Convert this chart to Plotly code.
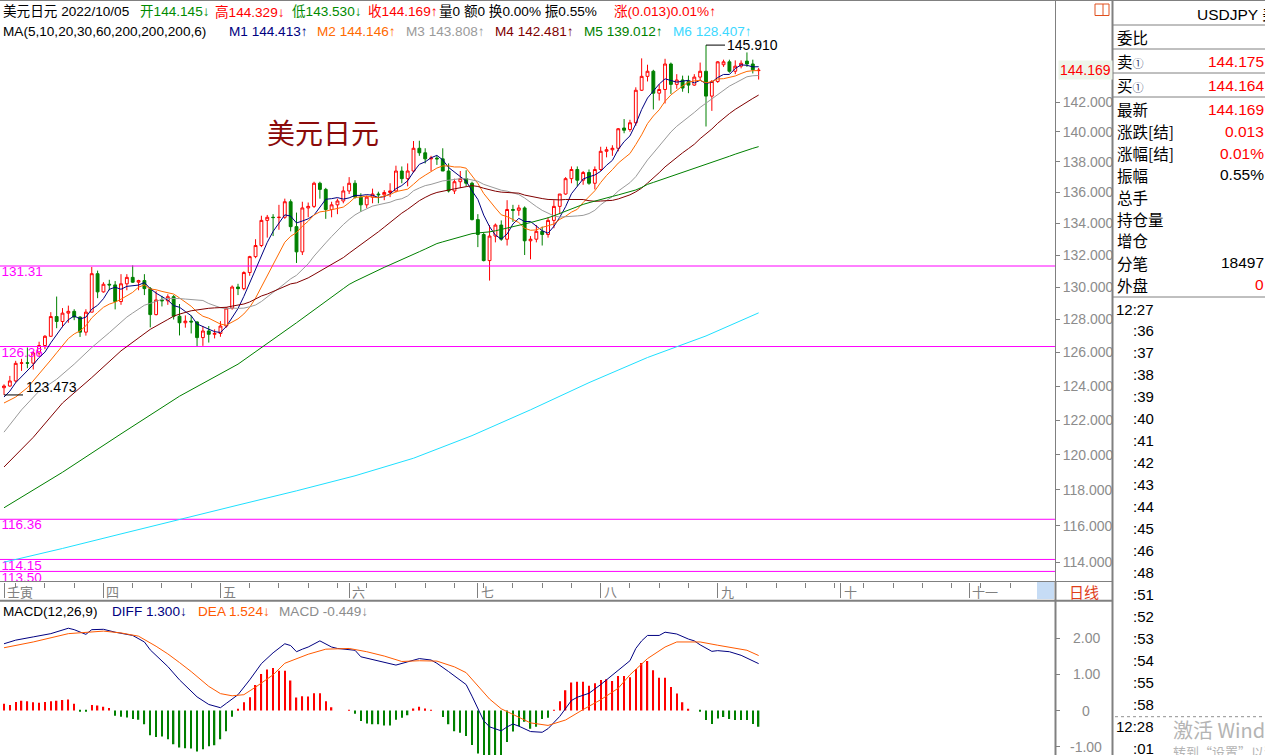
import math
import pandas as pd
import plotly.graph_objects as go

W, H = 1265, 755
FONT = "Liberation Sans, Arial, Noto Sans CJK SC, sans-serif"
CJK = "Noto Sans CJK SC, Liberation Sans, sans-serif"

# daily bars 2022-04-07 .. 2022-10-05 (130 sessions)
OPEN = [123.90, 124.00, 124.30, 125.35, 125.38, 125.36, 125.97, 126.42, 126.98, 128.18,
        127.88, 128.39, 128.50, 128.15, 127.23, 128.45, 130.83, 129.70, 130.17, 130.13,
        129.10, 130.20, 130.60, 130.30, 130.40, 129.90, 128.30, 129.20, 129.15, 129.40,
        128.20, 127.80, 127.90, 127.85, 126.90, 127.30, 127.10, 127.15, 127.60, 128.70,
        130.00, 129.90, 130.90, 131.90, 132.60, 134.20, 134.40, 134.38, 134.40, 135.40,
        133.80, 132.20, 135.00, 135.10, 136.60, 136.20, 134.90, 135.20, 135.45, 136.10,
        136.60, 135.70, 135.20, 135.70, 135.90, 135.85, 136.00, 136.10, 137.40, 136.90,
        137.40, 138.90, 138.60, 138.20, 138.25, 138.20, 137.40, 136.10, 136.70, 136.90,
        136.60, 134.25, 133.30, 131.65, 133.20, 133.90, 133.00, 134.90, 134.85, 135.00,
        132.90, 133.00, 133.50, 133.30, 134.20, 135.10, 135.90, 136.90, 137.50, 136.80,
        137.30, 136.60, 137.50, 138.70, 138.80, 138.90, 140.25, 140.15, 140.60, 142.80,
        143.75, 144.10, 142.60, 142.85, 144.60, 143.20, 143.50, 143.40, 143.15, 143.70,
        144.10, 142.40, 143.40, 144.55, 144.75, 144.10, 144.45, 144.80, 144.60, 144.145]
HIGH = [124.10, 124.60, 125.50, 125.62, 126.30, 126.05, 126.65, 127.05, 128.45, 129.41,
        128.70, 128.85, 128.63, 128.20, 128.63, 131.25, 131.02, 130.30, 130.45, 130.37,
        130.80, 130.80, 131.35, 130.45, 130.80, 130.00, 129.75, 129.45, 129.55, 129.50,
        128.95, 128.25, 128.25, 127.90, 127.60, 127.60, 127.40, 127.90, 128.75, 130.10,
        130.20, 130.98, 131.95, 133.00, 134.50, 134.55, 134.60, 135.20, 135.60, 135.55,
        134.70, 135.40, 135.35, 136.70, 136.70, 136.30, 135.40, 135.60, 136.40, 137.00,
        136.80, 135.95, 135.80, 136.25, 136.05, 136.15, 136.60, 137.75, 137.70, 137.90,
        139.38, 139.40, 138.90, 138.40, 138.40, 138.90, 137.90, 136.90, 137.40, 137.45,
        136.70, 134.60, 133.40, 133.90, 134.00, 134.20, 135.50, 135.20, 135.20, 135.10,
        133.20, 133.90, 133.80, 134.40, 135.50, 135.90, 137.00, 137.70, 137.70, 137.40,
        137.50, 137.70, 139.00, 139.00, 139.10, 140.25, 140.85, 140.80, 143.00, 144.99,
        144.55, 144.20, 143.20, 144.96, 144.70, 143.90, 143.80, 143.80, 143.90, 144.70,
        145.91, 143.50, 144.80, 144.90, 144.90, 144.85, 144.85, 145.40, 144.90, 144.329]
LOW = [123.473, 123.95, 124.20, 124.90, 125.06, 124.98, 125.80, 126.20, 126.95, 127.47,
       127.53, 127.80, 127.96, 126.94, 127.02, 128.44, 129.31, 129.65, 129.80, 128.62,
       128.90, 129.80, 130.25, 129.80, 129.50, 127.52, 128.25, 128.80, 128.90, 128.00,
       127.03, 127.50, 127.15, 126.36, 126.40, 126.60, 126.85, 126.95, 127.50, 128.60,
       129.50, 129.80, 130.70, 131.80, 132.50, 133.10, 133.20, 133.60, 134.30, 133.50,
       131.50, 132.00, 134.40, 135.00, 135.60, 134.30, 134.40, 134.60, 135.30, 135.90,
       135.60, 134.75, 135.00, 135.30, 135.30, 135.50, 135.70, 136.00, 136.60, 136.40,
       137.30, 138.40, 137.90, 137.40, 137.80, 137.40, 136.00, 135.90, 136.30, 136.40,
       134.20, 132.50, 131.60, 130.40, 132.80, 132.90, 132.60, 134.10, 134.50, 132.00,
       131.73, 132.80, 132.60, 133.10, 133.70, 134.60, 135.85, 136.60, 136.40, 136.50,
       136.50, 136.20, 137.40, 138.30, 138.40, 138.70, 139.90, 140.00, 140.40, 142.75,
       143.40, 141.50, 142.10, 141.90, 142.55, 142.90, 142.70, 142.60, 143.10, 143.50,
       140.35, 141.40, 143.30, 144.40, 144.00, 143.90, 144.30, 144.40, 143.95, 143.530]
CLOSE = [124.00, 124.30, 125.35, 125.38, 125.36, 125.97, 126.42, 126.98, 128.18, 127.88,
         128.39, 128.50, 128.15, 127.23, 128.45, 130.83, 129.70, 130.17, 130.13, 129.10,
         130.20, 130.60, 130.30, 130.40, 129.90, 128.30, 129.20, 129.15, 129.40, 128.20,
         127.80, 127.90, 127.85, 126.90, 127.30, 127.10, 127.15, 127.60, 128.70, 130.00,
         129.90, 130.90, 131.90, 132.60, 134.20, 134.40, 134.38, 134.40, 135.40, 133.80,
         132.20, 135.00, 135.10, 136.60, 136.20, 134.90, 135.20, 135.45, 136.10, 136.60,
         135.70, 135.20, 135.70, 135.90, 135.85, 136.00, 136.10, 137.40, 136.90, 137.40,
         138.90, 138.60, 138.20, 138.25, 138.20, 137.40, 136.10, 136.70, 136.90, 136.60,
         134.25, 133.30, 131.65, 133.20, 133.90, 133.00, 134.90, 134.85, 135.00, 132.90,
         133.00, 133.50, 133.30, 134.20, 135.10, 135.90, 136.90, 137.50, 136.80, 137.30,
         136.60, 137.50, 138.70, 138.80, 138.90, 140.20, 140.10, 140.60, 142.80, 143.75,
         144.10, 142.60, 142.85, 144.60, 143.20, 143.50, 142.95, 143.15, 143.70, 144.10,
         142.40, 143.40, 144.75, 144.75, 144.10, 144.45, 144.65, 144.60, 144.20, 144.169]

MA5_LEAD = [(0, 123.35), (1, 123.7), (2, 124.2), (3, 124.55)]
MA10_LEAD = [(0, 123.0), (2, 123.35), (4, 123.9), (6, 124.7), (8, 125.55)]
MA20_LEAD = [(0, 121.3), (3, 122.6), (6, 123.7), (9, 124.4), (12, 125.3), (15, 126.3), (18, 127.2)]
MA30_LEAD = [(0, 119.3), (5, 121.0), (10, 123.0), (15, 124.5), (20, 126.1), (25, 127.4), (28, 128.0)]
MA60_LEAD = [(0, 117.0), (10, 119.0), (20, 121.2), (30, 123.4), (40, 125.3), (50, 127.8), (58, 129.9)]
MA200_PTS = [(0, 114.0), (10, 114.75), (20, 115.55), (30, 116.36), (40, 117.15), (50, 117.95),
             (60, 118.8), (70, 119.8), (80, 121.1), (90, 122.6), (100, 124.2), (110, 125.7),
             (120, 127.0), (129, 128.407)]

LEVELS = [131.31, 126.36, 116.36, 114.15, 113.50]
PRICE_TICKS = list(range(114, 143, 2))

MACD_HIST = [0.19, 0.155, 0.24, 0.27, 0.26, 0.23, 0.22, 0.24, 0.26, 0.27,
             0.29, 0.31, 0.19, -0.01, -0.03, 0.155, 0.14, 0.11, 0.07, -0.14,
             -0.17, -0.19, -0.23, -0.25, -0.38, -0.68, -0.73, -0.72, -0.79, -0.93,
             -1.02, -1.04, -1.05, -1.13, -1.07, -0.99, -0.96, -0.79, -0.57, -0.17,
             0.03, 0.23, 0.37, 0.71, 1.01, 1.14, 1.18, 1.10, 1.10, 0.83,
             0.36, 0.40, 0.39, 0.48, 0.48, 0.26, 0.09, 0.0, 0.0, 0.02,
             -0.09, -0.29, -0.36, -0.38, -0.38, -0.41, -0.41, -0.25, -0.20, -0.13,
             0.055, 0.11, 0.055, 0.01, 0.0, -0.18, -0.38, -0.57, -0.61, -0.70,
             -0.95, -1.19, -1.3, -1.3, -1.3, -1.3, -0.87, -0.58, -0.43, -0.31,
             -0.50, -0.45, -0.23, -0.20, 0.01, 0.26, 0.56, 0.78, 0.80, 0.80,
             0.69, 0.76, 0.85, 0.87, 0.82, 0.96, 0.96, 0.92, 1.15, 1.32,
             1.37, 1.12, 0.91, 0.91, 0.65, 0.47, 0.23, 0.05, 0.0, -0.01,
             -0.26, -0.37, -0.22, -0.18, -0.23, -0.26, -0.26, -0.26, -0.37, -0.449]
DIFF_PTS = [(0, 1.85), (2, 1.95), (5, 2.04), (8, 2.13), (11, 2.28), (12, 2.24), (14, 2.11),
            (15, 2.24), (17, 2.25), (19, 2.17), (22, 2.08), (24, 1.90), (25, 1.68), (28, 1.22),
            (30, 0.85), (32, 0.55), (33, 0.38), (35, 0.17), (37, 0.08), (38, 0.20), (39, 0.33),
            (40, 0.44), (42, 0.85), (44, 1.30), (46, 1.60), (48, 1.85), (49, 1.80), (50, 1.63),
            (51, 1.70), (52, 1.76), (54, 1.93), (56, 1.76), (57, 1.72), (60, 1.67), (61, 1.49),
            (65, 1.35), (67, 1.26), (69, 1.35), (71, 1.44), (73, 1.40), (74, 1.31), (76, 1.08),
            (78, 0.85), (79, 0.72), (80, 0.40), (81, 0.08), (82, -0.28), (83, -0.45), (85, -0.56),
            (86, -0.45), (87, -0.37), (88, -0.43), (89, -0.50), (90, -0.58), (92, -0.60),
            (93, -0.50), (95, -0.16), (97, 0.28), (98, 0.37), (100, 0.48), (102, 0.72),
            (103, 0.85), (105, 1.12), (107, 1.38), (108, 1.72), (109, 1.93), (110, 2.08),
            (112, 2.08), (113, 2.17), (115, 2.12), (117, 1.98), (118, 1.93), (119, 1.82),
            (121, 1.64), (122, 1.66), (124, 1.63), (126, 1.53), (129, 1.30)]
DEA_PTS = [(0, 1.74), (5, 1.90), (11, 2.13), (14, 2.16), (17, 2.20), (20, 2.15), (23, 2.06),
           (26, 1.78), (28, 1.57), (30, 1.33), (32, 1.08), (35, 0.67), (37, 0.47), (39, 0.41),
           (41, 0.44), (43, 0.65), (46, 0.99), (48, 1.31), (50, 1.44), (52, 1.56), (55, 1.70),
           (59, 1.72), (62, 1.63), (65, 1.51), (68, 1.36), (71, 1.38), (74, 1.37), (77, 1.21),
           (79, 1.05), (81, 0.68), (83, 0.32), (85, 0.05), (87, -0.11), (90, -0.34), (93, -0.41),
           (96, -0.26), (99, 0.03), (102, 0.30), (105, 0.62), (107, 0.99), (110, 1.44),
           (113, 1.76), (115, 1.90), (117, 1.91), (119, 1.90), (122, 1.81), (124, 1.76),
           (127, 1.67), (129, 1.524)]
MACD_TICKS = [2, 1, 0, -1]
MACD_TICKTEXT = ["2.00", "1.00", "0", "-1.00"]

# lunar month starts on the bar axis, weekly ticks on Mondays
MONTH_POS = [0, 17, 37, 59, 81, 102, 122, 143, 165]
MONTH_TXT = ["壬寅", "四", "五", "六", "七", "八", "九", "十", "十一"]
WEEK_POS = list(range(2, 180, 5))

PANEL_ROWS = ["委比", "卖①", "买①", "最新", "涨跌[结]", "涨幅[结]", "振幅", "总手", "持仓量", "增仓", "分笔", "外盘"]
PANEL_VALS = ["", "144.175", "144.164", "144.169", "0.013", "0.01%", "0.55%", "", "", "", "18497", "0"]
PANEL_COLS = ["", "red", "red", "red", "red", "red", "black", "", "", "", "black", "red"]
TIMES = ["12:27", ":36", ":37", ":38", ":39", ":40", ":41", ":42", ":43", ":44", ":45", ":46",
         ":48", ":51", ":52", ":53", ":54", ":55", ":58", "12:28", ":01"]

RED, GREEN = "#ff0000", "#008000"
MA_COLORS = ["#000080", "#ff6a00", "#9a9a9a", "#800000", "#008000", "#1ee0ff"]
GRAY = "#808080"


def px(x):
    return x / W


def py(y):
    return 1 - y / H


def ma_line(n, lead):
    rolled = pd.Series(CLOSE).rolling(n).mean()
    xs = [i for i, _ in lead] + list(range(n - 1, len(CLOSE)))
    ys = [v for _, v in lead] + rolled.iloc[n - 1:].tolist()
    return xs, ys


X_RANGE = [-4 / 5.85, (1055 - 4) / 5.85]
Y_RANGE = [math.log10(112.955), math.log10(149.085)]
bars = list(range(len(CLOSE)))

fig = go.Figure()

# drawn support / resistance levels
for lv in LEVELS:
    fig.add_trace(go.Scatter(x=X_RANGE, y=[lv, lv], mode="lines",
                             line=dict(color="#ff00ff", width=1), hoverinfo="skip"))
fig.add_trace(go.Scatter(x=[X_RANGE[0] + 0.25] * len(LEVELS), y=LEVELS, mode="text",
                         text=[f"{v:.2f}" for v in LEVELS], textposition="bottom right",
                         textfont=dict(color="#ff00ff", size=13.5, family=FONT), cliponaxis=True))

fig.add_trace(go.Candlestick(
    x=bars, open=OPEN, high=HIGH, low=LOW, close=CLOSE, whiskerwidth=0,
    increasing=dict(line=dict(color=RED, width=1), fillcolor="#ffffff"),
    decreasing=dict(line=dict(color=GREEN, width=1), fillcolor=GREEN),
))

for n, lead, col in [(5, MA5_LEAD, MA_COLORS[0]), (10, MA10_LEAD, MA_COLORS[1]),
                     (20, MA20_LEAD, MA_COLORS[2]), (30, MA30_LEAD, MA_COLORS[3]),
                     (60, MA60_LEAD, MA_COLORS[4])]:
    xs, ys = ma_line(n, lead)
    fig.add_trace(go.Scatter(x=xs, y=ys, mode="lines", line=dict(color=col, width=1)))
fig.add_trace(go.Scatter(x=[i for i, _ in MA200_PTS], y=[v for _, v in MA200_PTS],
                         mode="lines", line=dict(color=MA_COLORS[5], width=1)))

# MACD panel
fig.add_trace(go.Bar(x=bars, y=MACD_HIST, width=0.24, xaxis="x2", yaxis="y2",
                     marker=dict(color=[RED if v > 0 else GREEN for v in MACD_HIST], line_width=0)))
fig.add_trace(go.Scatter(x=[i for i, _ in DIFF_PTS], y=[v for _, v in DIFF_PTS], mode="lines",
                         line=dict(color="#000080", width=1), xaxis="x2", yaxis="y2"))
fig.add_trace(go.Scatter(x=[i for i, _ in DEA_PTS], y=[v for _, v in DEA_PTS], mode="lines",
                         line=dict(color="#ff5a00", width=1), xaxis="x2", yaxis="y2"))

ann = []


def text(x, y, s, color="black", size=13.6, anchor="left", family=FONT):
    ann.append(dict(x=px(x), y=py(y), xref="paper", yref="paper", text=s, showarrow=False,
                    xanchor=anchor, yanchor="middle", font=dict(color=color, size=size, family=family)))


# header lines
text(1, 12, "美元日元 2022/10/05")
text(138, 12, "开144.145↓", "#008a00")
text(213, 12, "高144.329↓", RED)
text(290, 12, "低143.530↓", "#008a00")
text(366, 12, "收144.169↑", RED)
text(437, 12, "量0 额0 换0.00% 振0.55%")
text(612, 12, "涨(0.013)0.01%↑", RED)
text(1, 32, "MA(5,10,20,30,60,200,200,200,6)")
ma_vals = ["144.413", "144.146", "143.808", "142.481", "139.012", "128.407"]
for k, (xx, v) in enumerate(zip([227, 315, 404, 493, 582, 671], ma_vals)):
    col = MA_COLORS[k] if k != 5 else "#3cd8ff"
    text(xx, 32, f"M{k + 1} {v}↑", col)

text(265, 132, "美元日元", "#8b0a0a", 28, family=CJK)

text(1, 611, "MACD(12,26,9)")
text(110, 611, "DIFF 1.300↓", "#000080")
text(196, 611, "DEA 1.524↓", "#ff5a00")
text(277, 611, "MACD -0.449↓", "#8c8c8c")

# month labels on the date band
for pos, lab in zip(MONTH_POS, MONTH_TXT):
    ann.append(dict(x=pos, y=py(591), xref="x", yref="paper", text=lab, showarrow=False,
                    xanchor="left", yanchor="middle", xshift=1,
                    font=dict(color=GRAY, size=13, family=CJK)))
text(1084, 591, "日线", "#e0401a", 15, "center", CJK)

for t, lab in zip(MACD_TICKS, MACD_TICKTEXT):
    y_px = 710.6 - t * 36.13
    text(1086, y_px, lab, "#8c8c8c", 14, "center")

# last price tag on the price axis
ann.append(dict(x=px(1058), y=math.log10(CLOSE[-1]), xref="paper", yref="y", text=f"{CLOSE[-1]:.3f}",
                showarrow=False, xanchor="left", yanchor="middle", bgcolor="#eef5ea",
                font=dict(color=RED, size=14, family=FONT)))

# high / low markers
hi = HIGH.index(max(HIGH))
ann.append(dict(x=hi, y=math.log10(HIGH[hi]), xref="x", yref="y", text=f"{HIGH[hi]:.3f}",
                showarrow=True, arrowhead=0, arrowwidth=1, arrowcolor="black", ax=19, ay=0,
                standoff=0, xanchor="left", yanchor="middle", font=dict(color="black", size=14, family=FONT)))
lo = LOW.index(min(LOW))
ann.append(dict(x=lo, y=math.log10(LOW[lo]), xref="x", yref="y", text=" ",
                showarrow=True, arrowhead=0, arrowwidth=1, arrowcolor="black", ax=19, ay=0,
                standoff=0, xanchor="left", font=dict(size=4)))
ann.append(dict(x=lo, y=math.log10(LOW[lo]), xref="x", yref="y", text=f"{LOW[lo]:.3f}",
                showarrow=False, xanchor="left", yanchor="middle", xshift=20, yshift=8,
                font=dict(color="black", size=14, family=FONT)))

# quote panel on the right
text(1195, 14, "USDJPY 美元日元", "black", 15.5)
row_y = [37, 61, 85, 109, 131, 153, 174.5, 196.5, 218.5, 240, 262.5, 284.5]
for lab, val, col, yy in zip(PANEL_ROWS, PANEL_VALS, PANEL_COLS, row_y):
    lab = lab.replace("①", "<span style='font-size:11px;color:#34406a'>①</span>")
    text(1115, yy, lab, "black", 15.5, family=CJK)
    if val:
        text(1266, yy, val, col, 15.5, "right")
for k, t in enumerate(TIMES):
    text(1156, 309 + 21.95 * k, t, "black", 15, "right")
text(1171, 729, "激活 Windows", "#b4b4b4", 20, family=CJK)
text(1171, 751, "转到“设置”以激活 Windows。", "#b4b4b4", 13, family=CJK)

shapes = []


def seg(x0, y0, x1, y1, color=GRAY, width=1, dash="solid"):
    shapes.append(dict(type="line", xref="paper", yref="paper", x0=px(x0), y0=py(y0),
                       x1=px(x1), y1=py(y1), line=dict(color=color, width=width, dash=dash)))


seg(0, 0.5, W, 0.5)
seg(0, 581.5, 1112, 581.5)
seg(0, 600.7, 1112, 600.7, width=2)
seg(1055.5, 0, 1055.5, 581.5)
seg(1055.5, 581.5, 1055.5, H, width=2)
seg(1112.5, 0, 1112.5, H, width=2)
for yy in [25, 49, 73, 97, 297]:
    seg(1112, yy, W, yy)
seg(1115, 716.7, W, 716.7, "#909090", 1, "dot")
shapes.append(dict(type="rect", xref="paper", yref="paper", x0=px(1037), x1=px(1054),
                   y0=py(599), y1=py(582), fillcolor="#c6dcf5", line=dict(width=0)))
shapes.append(dict(type="rect", xref="paper", yref="paper", x0=px(1095), x1=px(1109),
                   y0=py(15.5), y1=py(4), line=dict(color="#e0501e", width=1)))
seg(1103, 4, 1103, 15.5, "#e0501e")

fig.update_layout(
    width=W, height=H, autosize=False, margin=dict(l=0, r=0, t=0, b=0),
    paper_bgcolor="white", plot_bgcolor="white", showlegend=False, hovermode=False,
    font=dict(family=FONT),
    xaxis=dict(domain=[0, px(1055)], range=X_RANGE, anchor="y", showgrid=False, zeroline=False,
               rangeslider=dict(visible=False), showticklabels=False, ticks="outside",
               tickmode="array", tickvals=MONTH_POS, ticklen=15, tickcolor=GRAY, tickwidth=1,
               minor=dict(tickmode="array", tickvals=WEEK_POS, ticks="outside", ticklen=5,
                          tickcolor=GRAY, tickwidth=1)),
    yaxis=dict(domain=[py(581.5), 1], type="log", range=Y_RANGE, side="right", anchor="x",
               showgrid=False, zeroline=False, ticks="outside", ticklen=4, tickcolor=GRAY,
               tickmode="array", tickvals=PRICE_TICKS, ticktext=[f"{v:.3f}" for v in PRICE_TICKS],
               tickfont=dict(color="#8c8c8c", size=14, family=FONT)),
    xaxis2=dict(domain=[0, px(1055)], range=X_RANGE, anchor="y2", showgrid=False, zeroline=False,
                showticklabels=False, ticks=""),
    yaxis2=dict(domain=[0, py(600.7)], range=[-1.229, 3.042], side="right", anchor="x2",
                showgrid=False, zeroline=False, ticks="outside", ticklen=4, tickcolor=GRAY,
                tickmode="array", tickvals=MACD_TICKS, showticklabels=False),
    annotations=ann, shapes=shapes,
)

# the page body has a default 8px margin; drop it so the chart sits at the corner
fig.write_html("out.html", config={"displayModeBar": False},
               post_script="document.body.style.margin='0';")
